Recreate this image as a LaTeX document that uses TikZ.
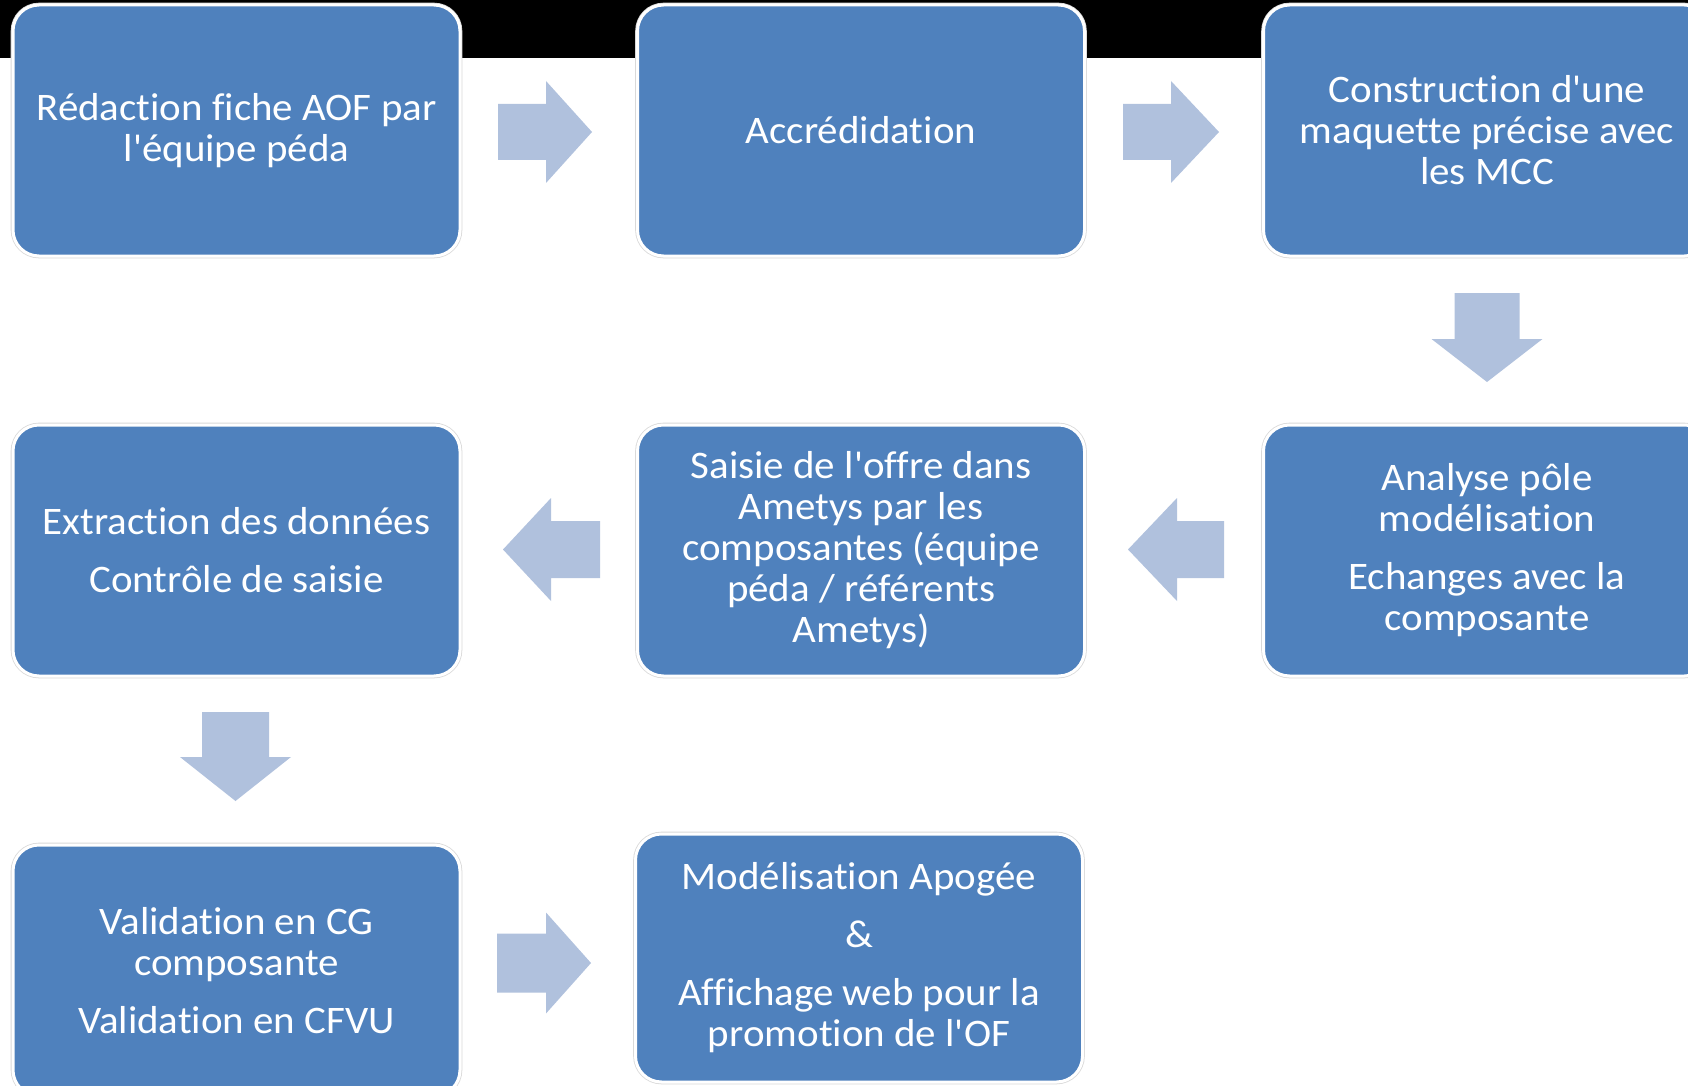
\documentclass[tikz,border=0pt]{standalone}
\usepackage{fontspec}
\setmainfont{Carlito}[Ligatures={TeXOff,NoCommon}, FakeStretch=1.05]
\definecolor{boxblue}{HTML}{4F81BD}
\definecolor{arrowfill}{HTML}{B0C1DD}
\definecolor{ringgray}{HTML}{D9D9D9}
\newcommand\blockarr[7]{%
  \begin{scope}[shift={(#1,#2)},rotate=#3]
    \fill[arrowfill] (-#4,-#5) -- ({#4-#7},-#5) -- ({#4-#7},-#6) -- (#4,0)
      -- ({#4-#7},#6) -- ({#4-#7},#5) -- (-#4,#5) -- cycle;
  \end{scope}}
\begin{document}
\begin{tikzpicture}[x=0.5pt,y=-0.5pt,
  stepbox/.style={rectangle, rounded corners=13pt, fill=boxblue,
    draw=white, line width=1.5pt,
    preaction={draw=ringgray, line width=2.3pt},
    text=white, align=center, inner sep=0pt,
    minimum width=223.5pt, minimum height=125.5pt,
    font=\fontsize{19.5}{20.5}\selectfont}]
\useasboundingbox (0,0) rectangle (1688,1086);
\clip (0,0) rectangle (1688,1086);
\fill[white] (0,0) rectangle (1688,1086);
\fill[black] (0,0) rectangle (1688,58);

\node[stepbox] (b1) at (236.5,130.5) {Rédaction fiche AOF par\\l'équipe péda};
\node[stepbox] (b2) at (861,130.5) {Accrédidation};
\node[stepbox] (b3) at (1487,130.5) {Construction d'une\\maquette précise avec\\les MCC};
\node[stepbox] (b6) at (1487,550.5) {Analyse pôle\\modélisation\\[8.5pt]Echanges avec la\\composante};
\node[stepbox] (b5) at (861,550.5) {Saisie de l'offre dans\\Ametys par les\\composantes (équipe\\péda / référents\\Ametys)};
\node[stepbox] (b4) at (236.5,550.5) {Extraction des données\\[8.5pt]Contrôle de saisie};
\node[stepbox] (b7) at (236.5,970.5) {Validation en CG\\composante\\[8.5pt]Validation en CFVU};
\node[stepbox, minimum height=124pt] (b8) at (859,958) {Modélisation Apogée\\[8.5pt]\&\\[8.5pt]Affichage web pour la\\promotion de l'OF};

% block arrows between the steps
\blockarr{545}{132}{0}{47}{28}{51}{46}
\blockarr{1171}{132}{0}{48}{28}{51}{48}
\blockarr{1487}{337.5}{-90}{44.5}{32.5}{55.5}{43}
\blockarr{1176}{549.5}{180}{48}{28.5}{51.5}{49}
\blockarr{551.5}{549.5}{180}{48.5}{28.5}{51.5}{48}
\blockarr{235.5}{756.5}{-90}{44.5}{33.5}{55.5}{44}
\blockarr{544}{963}{0}{47}{29.5}{50.5}{45}
\end{tikzpicture}
\end{document}
